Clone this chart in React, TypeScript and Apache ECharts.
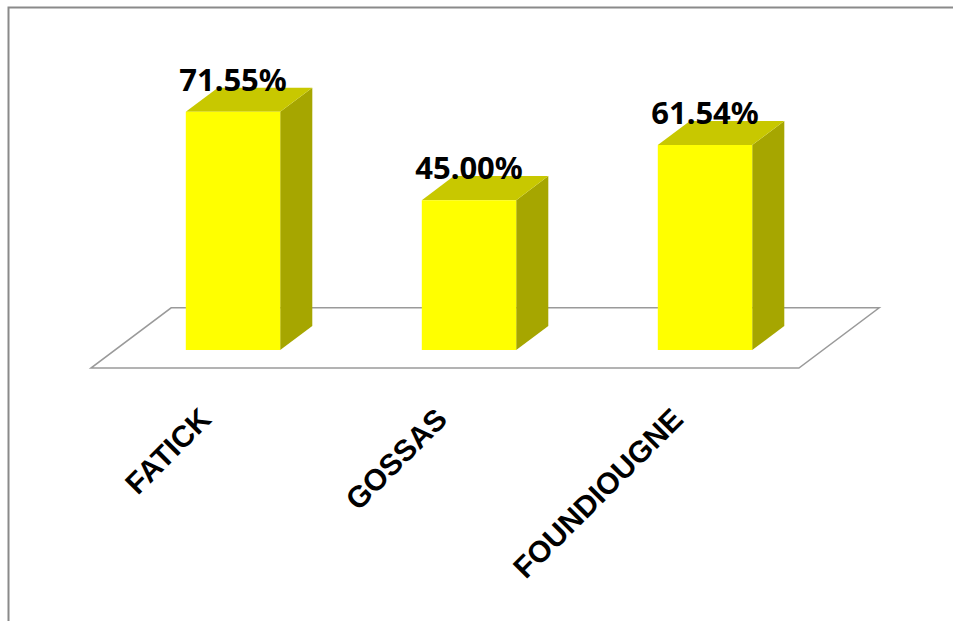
import React, { useEffect, useRef } from "react";
import * as echarts from "echarts";

const categories = ["FATICK", "GOSSAS", "FOUNDIOUGNE"];
const values = [71.55, 45.0, 61.54];
const valueLabels = ["71.55%", "45.00%", "61.54%"];

const FRONT = "#FFFF00";
const TOP = "#C8C800";
const SIDE = "#A6A600";

export default function App() {
  const ref = useRef<HTMLDivElement>(null);
  useEffect(() => {
    document.body.style.margin = "0";
    const chart = echarts.init(ref.current!, null, { renderer: "svg" });
    const option: any = {
      animation: false,
      backgroundColor: "#ffffff",
      grid: { left: 115, right: 130, top: 17, bottom: 271 },
      graphic: [
        {
          type: "rect",
          left: 6,
          top: 5,
          shape: { x: 0, y: 0, width: 1000, height: 700 },
          style: { fill: "none", stroke: "#8a8a8a", lineWidth: 2 },
          silent: true,
          z: -10,
        },
      ],
      xAxis: {
        type: "category",
        data: categories,
        axisLine: { show: false },
        axisTick: { show: false },
        splitLine: { show: false },
        axisLabel: {
          rotate: 45,
          margin: 36,
          padding: [0, 39, 0, 0],
          interval: 0,
          color: "#000",
          fontFamily: "Liberation Sans, Arial, sans-serif",
          fontWeight: "bold",
          fontSize: 30,
        },
      },
      yAxis: {
        type: "value",
        min: 0,
        max: 100,
        show: false,
        splitLine: { show: false },
      },
      series: [
        {
          type: "custom",
          z: 1,
          data: [[0, 0]],
          renderItem: (params: any, api: any) => {
            const cs = params.coordSys;
            const base = api.coord([0, 0])[1];
            const bandW = cs.width / categories.length;
            const w = bandW * 0.4;
            const dx = w * 0.34;
            const dy = w * 0.255;
            const xl = cs.x;
            const xr = cs.x + cs.width;
            const pts = [
              [xl - 0.75 * dx, base + 0.75 * dy],
              [xr - 0.75 * dx, base + 0.75 * dy],
              [xr + 1.75 * dx, base - 1.75 * dy],
              [xl + 1.75 * dx, base - 1.75 * dy],
            ];
            return {
              type: "polygon",
              shape: { points: pts },
              style: { fill: "#ffffff", stroke: "#9a9a9a", lineWidth: 1.5 },
            };
          },
        },
        {
          type: "custom",
          z: 2,
          data: values.map((v, i) => [i, v]),
          encode: { x: 0, y: 1 },
          renderItem: (params: any, api: any) => {
            const i = api.value(0);
            const v = api.value(1);
            const top = api.coord([i, v]);
            const base = api.coord([i, 0]);
            const w = api.size([1, 0])[0] * 0.4;
            const dx = w * 0.34;
            const dy = w * 0.255;
            const x0 = top[0] - w / 2;
            const x1 = top[0] + w / 2;
            const ty = top[1];
            const by = base[1];
            return {
              type: "group",
              children: [
                {
                  type: "polygon",
                  shape: {
                    points: [
                      [x1, ty],
                      [x1 + dx, ty - dy],
                      [x1 + dx, by - dy],
                      [x1, by],
                    ],
                  },
                  style: { fill: SIDE },
                },
                {
                  type: "polygon",
                  shape: {
                    points: [
                      [x0, ty],
                      [x1, ty],
                      [x1 + dx, ty - dy],
                      [x0 + dx, ty - dy],
                    ],
                  },
                  style: { fill: TOP },
                },
                {
                  type: "rect",
                  shape: { x: x0, y: ty, width: w, height: by - ty },
                  style: { fill: FRONT },
                },
                {
                  type: "text",
                  x: top[0],
                  y: ty - 33,
                  style: {
                    text: valueLabels[params.dataIndex],
                    fill: "#000",
                    font: "bold 31px 'Noto Sans', 'Open Sans', sans-serif",
                    align: "center",
                    verticalAlign: "middle",
                  },
                  z2: 10,
                },
              ],
            };
          },
        },
      ],
    };
    chart.setOption(option);
    return () => chart.dispose();
  }, []);
  return <div ref={ref} style={{ width: 953, height: 621 }} />;
}
